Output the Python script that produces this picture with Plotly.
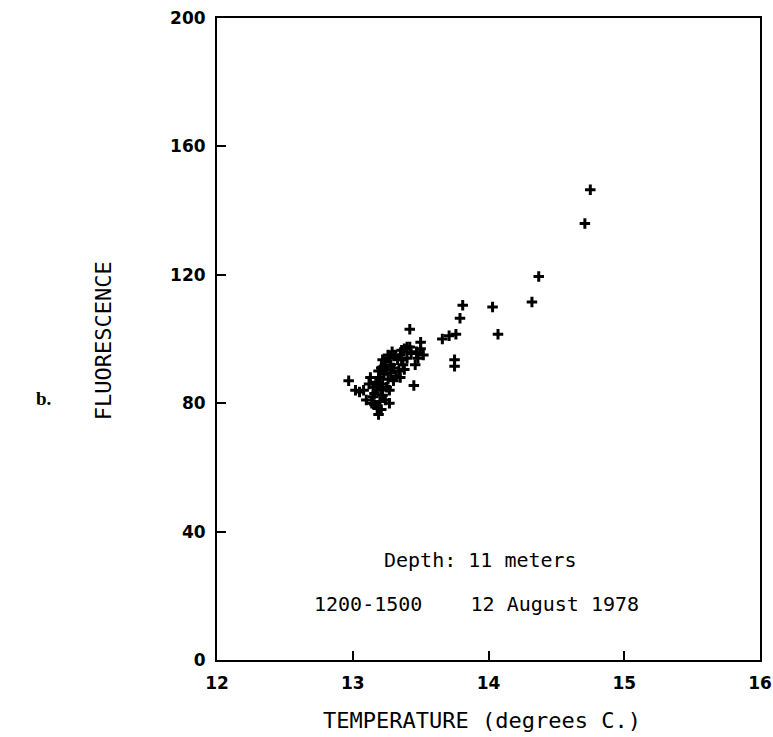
import plotly.graph_objects as go

temperature = [
    14.75, 14.71, 14.37, 14.32, 14.03, 14.07, 13.81, 13.79, 13.76, 13.71,
    13.66, 13.75, 13.75, 13.42, 13.45, 13.50, 13.50, 13.52, 13.48,
    12.97, 13.02, 13.05, 13.08, 13.10, 13.14, 13.15, 13.13, 13.16, 13.18,
    13.19, 13.21, 13.20, 13.22, 13.24, 13.17, 13.20, 13.22, 13.25, 13.27,
    13.19, 13.21, 13.23, 13.26, 13.24, 13.27, 13.28, 13.30, 13.31, 13.29,
    13.33, 13.35, 13.36, 13.38, 13.40, 13.42, 13.37, 13.34, 13.32, 13.30,
    13.25, 13.22, 13.26, 13.15, 13.12, 13.18, 13.21, 13.19, 13.23, 13.28,
    13.36, 13.38, 13.40, 13.43, 13.46, 13.47, 13.35, 13.27, 13.16,
]
fluorescence = [
    146.5, 136.0, 119.5, 111.5, 110.0, 101.5, 110.5, 106.5, 101.5, 101.0,
    100.0, 93.5, 91.5, 103.0, 85.5, 99.0, 97.0, 95.0, 94.0,
    87.0, 84.0, 83.5, 84.0, 81.0, 80.0, 85.0, 88.0, 83.0, 78.5,
    76.5, 78.0, 80.5, 82.5, 81.0, 86.5, 88.0, 86.0, 85.0, 84.0,
    90.0, 91.0, 89.0, 87.5, 93.0, 94.0, 92.0, 91.0, 95.0, 96.0,
    93.5, 95.0, 96.5, 97.0, 97.5, 97.5, 92.0, 90.0, 88.5, 87.0,
    90.5, 93.5, 95.0, 82.0, 86.0, 84.0, 84.5, 86.0, 91.5, 89.5,
    93.5, 90.5, 94.0, 95.5, 92.0, 96.0, 88.0, 80.0, 79.5,
]

x_ticks = [12, 13, 14, 15, 16]
y_ticks = [0, 40, 80, 120, 160, 200]

FONT = "DejaVu Sans Mono"
TICKFONT = dict(family="DejaVu Sans", size=17, weight="bold", color="black")

fig = go.Figure()
fig.add_trace(go.Scatter(
    x=temperature, y=fluorescence, mode="markers",
    marker=dict(symbol="cross-thin", size=7.5, color="black",
                line=dict(color="black", width=3)),
    showlegend=False, hoverinfo="skip",
))

axis_common = dict(
    ticks="inside", ticklen=9, tickwidth=2, tickcolor="black",
    showline=True, linecolor="black", linewidth=2, mirror=True,
    showgrid=False, zeroline=False, tickfont=TICKFONT,
)

fig.update_layout(
    width=773, height=737,
    margin=dict(l=217, r=13, t=18, b=77, autoexpand=False),
    paper_bgcolor="white", plot_bgcolor="white",
    font=dict(family=FONT, color="black", size=15),
    xaxis=dict(range=[12, 16], tickvals=x_ticks,
               ticktext=[str(v) for v in x_ticks], ticklabelstandoff=7,
               **axis_common),
    yaxis=dict(range=[0, 200], tickvals=y_ticks,
               ticktext=[str(v) for v in y_ticks], ticklabelstandoff=6,
               **axis_common),
)

fig.add_annotation(x=13.94, y=31, xref="x", yref="y", text="Depth: 11 meters",
                   showarrow=False, font=dict(family=FONT, size=20))
fig.add_annotation(x=13.91, y=17.4, xref="x", yref="y",
                   text="1200-1500    12 August 1978",
                   showarrow=False, font=dict(family=FONT, size=20))
fig.add_annotation(x=-0.21, y=0.498, xref="paper", yref="paper", text="FLUORESCENCE",
                   textangle=-90, showarrow=False, xanchor="center", yanchor="middle",
                   font=dict(family=FONT, size=22))
fig.add_annotation(x=0.488, y=-0.0935, xref="paper", yref="paper",
                   text="TEMPERATURE (degrees C.)", showarrow=False,
                   xanchor="center", yanchor="middle",
                   font=dict(family=FONT, size=22))
fig.add_annotation(x=-0.32, y=0.408, xref="paper", yref="paper", text="<b>b.</b>",
                   showarrow=False, xanchor="center", yanchor="middle",
                   font=dict(family="Liberation Serif", size=19))

fig.write_html("out.html", config={"displayModeBar": False},
               post_script="document.body.style.margin='0';")
